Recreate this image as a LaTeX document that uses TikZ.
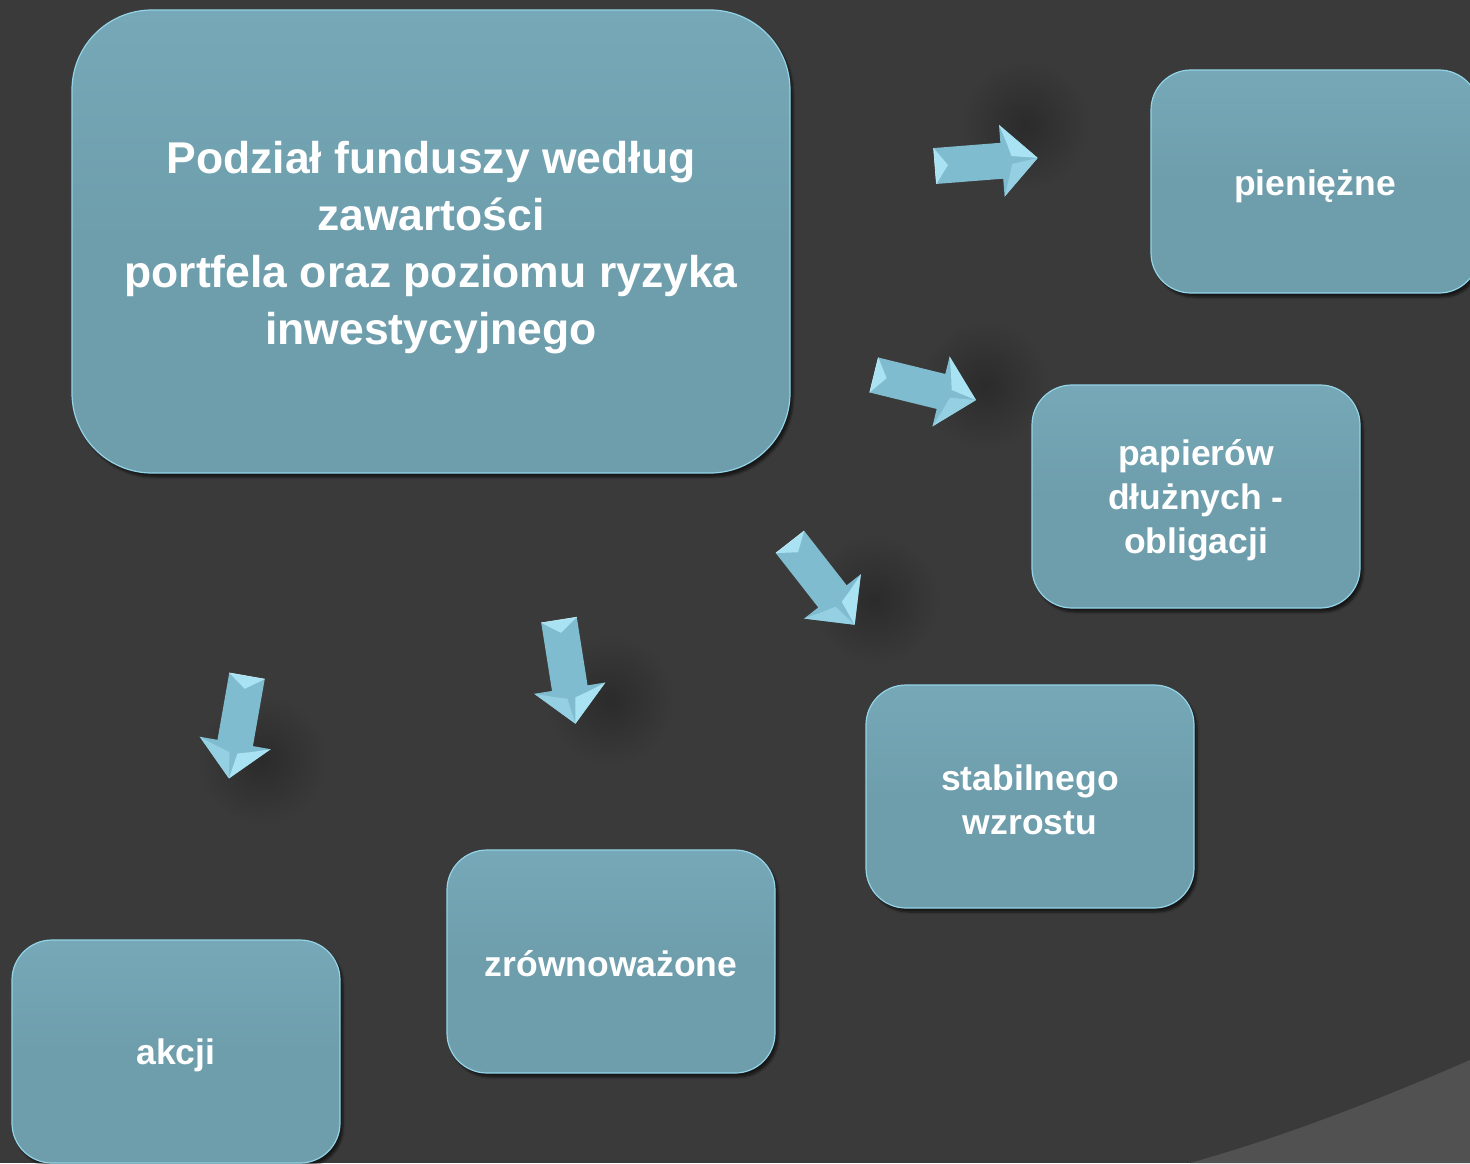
\documentclass[tikz,border=0pt]{standalone}
\usepackage{fontspec}
\setmainfont{Liberation Sans}
\usetikzlibrary{shadows.blur}
\definecolor{bg}{HTML}{3A3A3A}
\definecolor{bglight}{HTML}{515151}
\definecolor{boxfill}{HTML}{6E9EAC}
\definecolor{boxtop}{HTML}{76A8B7}
\definecolor{boxedge}{HTML}{93D4E8}
\definecolor{arrbase}{HTML}{80BCCF}
\definecolor{arrlight}{HTML}{A9E2F2}
\definecolor{arrmid}{HTML}{95D0E2}
\definecolor{shd}{HTML}{2B2B2B}
\tikzset{
  fbox/.style={rounded corners=#1, draw=boxedge, line width=1.2pt,
    top color=boxtop, bottom color=boxfill, middle color=boxfill,
    blur shadow={shadow xshift=3pt, shadow yshift=-4pt, shadow blur steps=6, shadow opacity=60},
    inner sep=0pt},
  fbox/.default=40pt,
  txt/.style={text=white, font=\bfseries\fontsize{35.5}{44}\selectfont, align=center, inner sep=0pt},
  bigtext/.style={font=\bfseries\fontsize{44.5}{57}\selectfont}
}
\newcommand{\blockarr}[4]{% name, tail centre, angle, length
  \coordinate (#1) at (#2);
  \begin{scope}[shift={(#1)}, rotate=#3]
    \fill[arrbase] (0,18) -- ({#4-36},18) -- ({#4-36},36) -- (#4,0) -- ({#4-36},-36) -- ({#4-36},-18) -- (0,-18) -- cycle;
    \fill[arrlight] (0,18) -- (0,-18) -- (13,0) -- cycle;
    \fill[arrmid] ({#4-36},36) -- (#4,0) -- ({#4-26},4) -- ({#4-30},18) -- cycle;
    \fill[arrlight] ({#4-36},-36) -- (#4,0) -- ({#4-26},-4) -- ({#4-30},-18) -- cycle;
    \draw[arrlight!70!white, line width=0.6pt] (0,18) -- (0,-18);
  \end{scope}}
\begin{document}
\begin{tikzpicture}[x=1pt,y=-1pt]
\useasboundingbox (0,0) rectangle (1470,1163);
\begin{scope}
\clip (0,0) rectangle (1470,1163);
\fill[bg] (0,0) rectangle (1470,1163);
\fill[bglight] (1190,1163) .. controls (1290,1135) and (1390,1095) .. (1470,1060) -- (1470,1163) -- cycle;
% soft shadows around arrows
\foreach \x/\y in {1025/125, 985/385, 875/600, 610/700, 262/760}
  \shade[inner color=shd, outer color=bg] (\x,\y) circle[radius=65];
% boxes
\node[fbox=80pt, minimum width=718pt, minimum height=463pt] (main) at (431,241.5) {};
\node[txt, bigtext] (mainT) at ([yshift=-6pt]main.center)
  {Podział funduszy według\\zawartości\\portfela oraz poziomu ryzyka\\inwestycyjnego};
\node[fbox, minimum width=328pt, minimum height=223pt] (pien) at (1315,181.5) {};
\node[txt] (pienT) at ([yshift=-5pt]pien.center) {pieniężne};
\node[fbox, minimum width=328pt, minimum height=223pt] (dluz) at (1196,496.5) {};
\node[txt] (dluzT) at ([yshift=-4pt]dluz.center) {papierów\\dłużnych -\\obligacji};
\node[fbox, minimum width=328pt, minimum height=223pt] (stab) at (1030,796.5) {};
\node[txt] (stabT) at ([yshift=-3pt]stab.center) {stabilnego\\wzrostu};
\node[fbox, minimum width=328pt, minimum height=223pt] (zrow) at (611,961.5) {};
\node[txt] (zrowT) at ([yshift=-2pt]zrow.center) {zrównoważone};
\node[fbox, minimum width=328pt, minimum height=223pt] (akcj) at (176,1051.5) {};
\node[txt] (akcjT) at ([yshift=-4pt]akcj.center) {akcji};
% arrows
\blockarr{a1}{935,166}{4.5}{103}
\blockarr{a2}{874,375}{-13.8}{105}
\blockarr{a3}{790,542}{-52}{105}
\blockarr{a4}{559,620}{-81}{105}
\blockarr{a5}{247,676}{-100}{104}
\end{scope}
\end{tikzpicture}
\end{document}
